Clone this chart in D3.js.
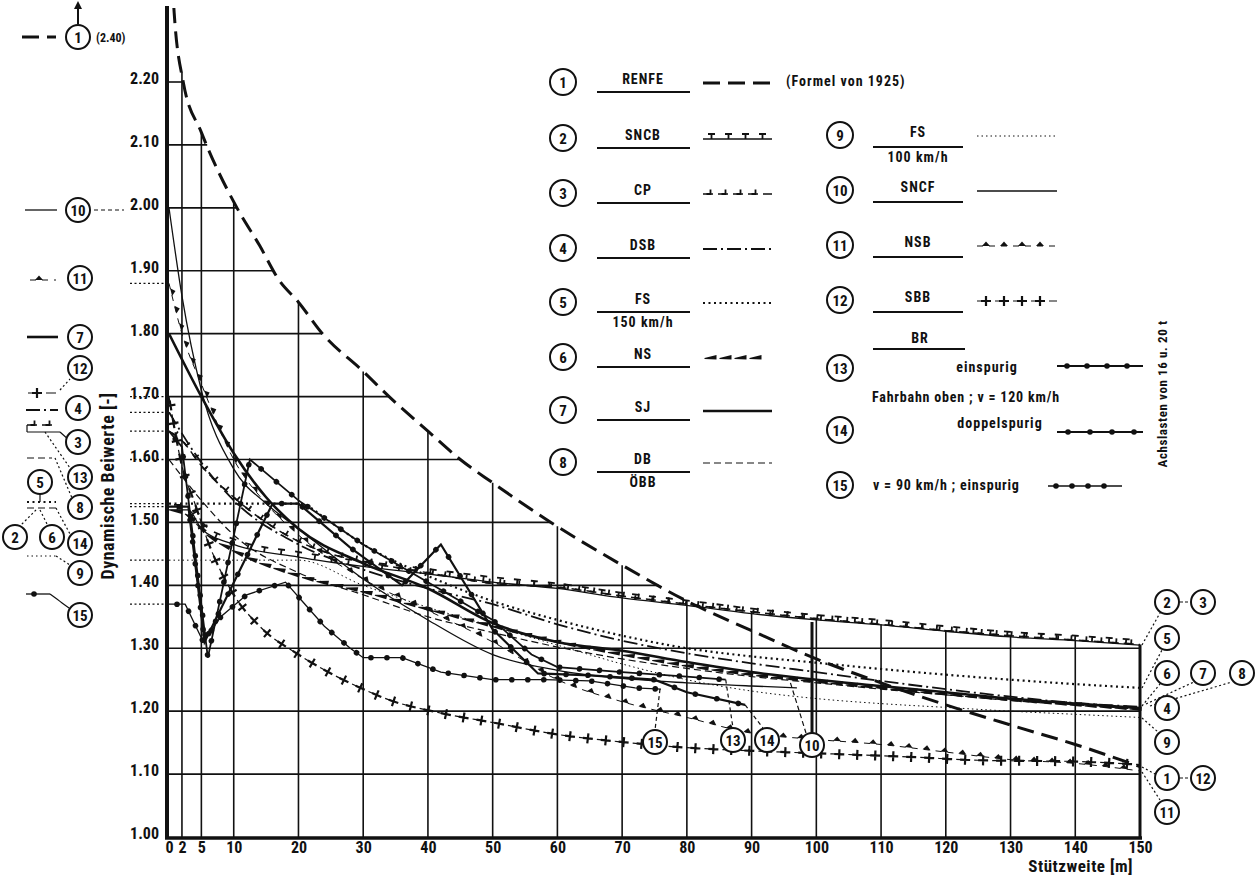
<!DOCTYPE html>
<html>
<head>
<meta charset="utf-8">
<script src="https://cdn.jsdelivr.net/npm/d3@7"></script>
<style>
body { margin: 0; background: #fff; }
svg text { font-family: "Liberation Sans Narrow", "Roboto Condensed", "DejaVu Sans Condensed", sans-serif; font-weight: bold; fill: #111; }
</style>
</head>
<body>
<svg id="chart" width="1260" height="879"></svg>
<script>
// axis ticks
var xTicks = [0, 2, 5, 10, 20, 30, 40, 50, 60, 70, 80, 90, 100, 110, 120, 130, 140, 150];
var xLabels = ["0", "2", "5", "10", "20", "30", "40", "50", "60", "70", "80", "90", "100", "110", "120", "130", "140", "150"];
var yTicks = [1.0, 1.1, 1.2, 1.3, 1.4, 1.5, 1.6, 1.7, 1.8, 1.9, 2.0, 2.1, 2.2];

// series: [Stützweite m, dynamischer Beiwert]
var renfe = [[0.3,2.40],[0.8,2.31],[2.2,2.20],[5,2.12],[10.5,2.00],[14,1.94],[17,1.885],[20,1.85],[23.7,1.80],[30,1.74],[34,1.70],[40,1.645],[45,1.60],[50,1.563],[59,1.50],[70,1.432],[80,1.375],[90,1.328],[100,1.283],[110,1.245],[120,1.21],[130,1.178],[140,1.147],[150,1.112]];
var sncb = [[0,1.52],[3,1.52],[5,1.49],[10,1.465],[20,1.445],[30,1.43],[40,1.418],[50,1.405],[60,1.395],[70,1.38],[80,1.368],[90,1.355],[100,1.345],[110,1.337],[120,1.327],[130,1.318],[140,1.312],[150,1.305]];
var cp = [[0,1.645],[2,1.63],[5,1.59],[10,1.54],[15,1.50],[20,1.47],[25,1.45],[30,1.438],[40,1.42],[50,1.403],[60,1.397],[70,1.383],[80,1.37],[90,1.358],[100,1.347],[110,1.338],[120,1.328],[130,1.32],[140,1.313],[150,1.306]];
var dsb = [[0,1.675],[5,1.595],[10,1.535],[20,1.465],[30,1.425],[40,1.395],[50,1.37],[60,1.338],[70,1.312],[80,1.292],[90,1.276],[100,1.262],[110,1.248],[120,1.235],[130,1.223],[140,1.213],[150,1.207]];
var fs150 = [[0,1.53],[20,1.53],[25,1.50],[30,1.465],[40,1.415],[50,1.375],[60,1.345],[70,1.32],[80,1.30],[90,1.287],[100,1.277],[110,1.267],[120,1.258],[130,1.25],[140,1.243],[150,1.237]];
var ns = [[0,1.52],[3,1.51],[6,1.48],[10,1.455],[20,1.415],[30,1.39],[40,1.362],[50,1.335],[60,1.31],[70,1.29],[80,1.272],[90,1.258],[100,1.247],[110,1.237],[120,1.227],[130,1.218],[140,1.21],[150,1.203]];
var sj = [[0,1.80],[5,1.70],[10,1.61],[15,1.54],[20,1.49],[30,1.435],[40,1.395],[50,1.34],[60,1.31],[70,1.296],[80,1.278],[90,1.262],[100,1.25],[110,1.24],[120,1.23],[130,1.22],[140,1.212],[150,1.205]];
var dbOebb = [[0,1.60],[5,1.535],[10,1.48],[20,1.42],[30,1.385],[40,1.35],[50,1.325],[60,1.302],[70,1.283],[80,1.268],[90,1.255],[100,1.245],[110,1.235],[120,1.226],[130,1.217],[140,1.21],[150,1.203]];
var fs100 = [[0,1.44],[20,1.44],[30,1.40],[40,1.365],[50,1.335],[60,1.305],[70,1.275],[80,1.25],[90,1.232],[100,1.22],[110,1.212],[120,1.206],[130,1.20],[140,1.195],[150,1.19]];
var sncf = [[0,2.00],[2,1.86],[5,1.71],[10,1.585],[15,1.53],[20,1.49],[30,1.41],[40,1.345],[50,1.29],[60,1.265],[70,1.252],[80,1.245],[90,1.24],[97,1.237]];
var nsb = [[0,1.88],[2,1.80],[5,1.72],[10,1.60],[15,1.53],[20,1.48],[30,1.41],[40,1.36],[50,1.31],[60,1.25],[70,1.215],[80,1.19],[90,1.165],[100,1.155],[110,1.147],[120,1.135],[130,1.123],[140,1.117],[150,1.105]];
var sbb = [[0,1.70],[2,1.59],[4,1.53],[6,1.47],[10,1.385],[14,1.335],[20,1.29],[25,1.26],[30,1.235],[34,1.218],[42,1.197],[50,1.182],[60,1.163],[70,1.151],[80,1.142],[90,1.137],[100,1.133],[115,1.127],[125,1.122],[140,1.12],[150,1.115]];
var brEin = [[0,1.645],[2,1.62],[6,1.285],[12.5,1.60],[20,1.535],[30,1.465],[40,1.405],[50,1.345],[56,1.29],[60,1.27],[70,1.262],[80,1.255],[86,1.25]];
var brDoppel = [[0,1.525],[3,1.525],[5.5,1.31],[16,1.53],[20,1.53],[28,1.46],[36,1.40],[42,1.465],[50,1.33],[57,1.26],[65,1.257],[75,1.25],[80,1.23],[89,1.21]];
var br90 = [[0,1.37],[2.5,1.37],[5.3,1.31],[8,1.35],[12,1.385],[18,1.405],[21,1.37],[24,1.335],[28,1.30],[30,1.285],[36,1.285],[42,1.262],[50,1.25],[58,1.25],[65,1.248],[72,1.237],[76,1.235]];

var svg = d3.select("#chart");
var x = d3.scaleLinear().domain([0, 150]).range([169, 1140]);
var y = d3.scaleLinear().domain([1.0, 2.2]).range([837, 82]);
var yTop = 2.31;
var ink = "#111";

function interp(pts, xv) {
  if (xv <= pts[0][0]) return pts[0][1];
  for (var i = 1; i < pts.length; i++) {
    if (xv <= pts[i][0]) {
      var t = (xv - pts[i-1][0]) / (pts[i][0] - pts[i-1][0]);
      return pts[i-1][1] + t * (pts[i][1] - pts[i-1][1]);
    }
  }
  return pts[pts.length-1][1];
}
// grid only drawn below the RENFE curve / SNCB curve
function envelope(xv) {
  return Math.min(yTop, Math.max(interp(renfe, xv), interp(sncb, xv), interp(cp, xv)));
}

svg.append("clipPath").attr("id", "plotclip")
  .append("rect").attr("x", 160).attr("y", 8).attr("width", 990).attr("height", 832);

// grid
var grid = svg.append("g").attr("stroke", ink).attr("stroke-width", 1.6);
yTicks.slice(1).forEach(function(v) {
  var xe = 0;
  for (var s = 0; s <= 150; s += 0.1) { if (envelope(s) >= v) xe = s; }
  grid.append("line").attr("x1", x(0)).attr("x2", x(xe)).attr("y1", y(v)).attr("y2", y(v));
});
xTicks.slice(1).forEach(function(v) {
  grid.append("line").attr("x1", x(v)).attr("x2", x(v)).attr("y1", y(1.0)).attr("y2", y(envelope(v)))
    .attr("stroke-width", v === 150 ? 3 : 1.6);
});

// axes
var yAxis = svg.append("g").attr("transform", "translate(159,0)")
  .call(d3.axisLeft(y).tickValues(yTicks).tickFormat(d3.format(".2f")).tickSize(0).tickPadding(0));
yAxis.select(".domain").remove();
yAxis.selectAll("text").attr("font-size", 16).attr("dy", "0.1em");
var xAxis = svg.append("g").attr("transform", "translate(0,838)")
  .call(d3.axisBottom(x).tickValues(xTicks).tickFormat(function(d, i) { return xLabels[i]; }).tickSize(0).tickPadding(4));
xAxis.select(".domain").remove();
xAxis.selectAll("text").attr("font-size", 16);
svg.append("line").attr("x1", 167).attr("x2", 167).attr("y1", 6).attr("y2", 839).attr("stroke", ink).attr("stroke-width", 4);
svg.append("line").attr("x1", 165).attr("x2", 1142).attr("y1", 838).attr("y2", 838).attr("stroke", ink).attr("stroke-width", 3.5);

svg.append("text").attr("x", 1133).attr("y", 872).attr("text-anchor", "end").attr("font-size", 17).attr("letter-spacing", 0.5).text("Stützweite [m]");
svg.append("text").attr("transform", "translate(114,486) rotate(-90)").attr("text-anchor", "middle").attr("font-size", 18).attr("letter-spacing", 0.5).text("Dynamische Beiwerte [-]");

// markers along a path
var markShapes = {
  tee: function(m) { m.append("path").attr("d", "M0,0V-5M-3.5,-5H3.5").attr("stroke", ink).attr("stroke-width", 1.8).attr("fill", "none"); },
  hook: function(m) { m.append("path").attr("d", "M-4,0H0V-4.5").attr("stroke", ink).attr("stroke-width", 1.8).attr("fill", "none"); },
  tri: function(m) { m.append("path").attr("d", "M-4,0L0,-4.5L4,0Z").attr("fill", ink); },
  plus: function(m) { m.append("path").attr("d", "M0,-5V5M-5,0H5").attr("stroke", ink).attr("stroke-width", 2.2).attr("fill", "none"); },
  dot: function(m) { m.append("circle").attr("r", 2.8).attr("fill", ink); },
  wedge: function(m) { m.append("path").attr("d", "M-6,1L-6,0L6,-3L6,1.5Z").attr("fill", ink); }
};
function addMarks(g, node, kind, step) {
  var L = node.getTotalLength();
  for (var s = step / 2; s < L - 2; s += step) {
    var p = node.getPointAtLength(s), q = node.getPointAtLength(Math.min(L, s + 1));
    var a = Math.atan2(q.y - p.y, q.x - p.x) * 180 / Math.PI;
    markShapes[kind](g.append("g").attr("transform", "translate(" + p.x + "," + p.y + ") rotate(" + a + ")"));
  }
}

var styles = {
  1: { w: 3, dash: "17 8" },
  2: { w: 1.3, mark: "tee", step: 17 },
  3: { w: 1.5, dash: "10 5", mark: "hook", step: 15 },
  4: { w: 1.8, dash: "14 4 2 4" },
  5: { w: 2.2, dash: "2 3.5" },
  6: { w: 0, mark: "wedge", step: 15 },
  7: { w: 2.6 },
  8: { w: 1.2, dash: "7 4" },
  9: { w: 1, dash: "1.5 3" },
  10: { w: 1.3 },
  11: { w: 1, dash: "6 6", mark: "tri", step: 18 },
  12: { w: 1.2, dash: "10 8", mark: "plus", step: 18 },
  13: { w: 1.8, mark: "dot", step: 20, linear: true },
  14: { w: 2.2, mark: "dot", step: 22, linear: true },
  15: { w: 1.3, mark: "dot", step: 16, linear: true }
};
var seriesList = [
  { id: 1, data: renfe }, { id: 2, data: sncb }, { id: 3, data: cp }, { id: 4, data: dsb },
  { id: 5, data: fs150 }, { id: 6, data: ns }, { id: 7, data: sj }, { id: 8, data: dbOebb },
  { id: 9, data: fs100 }, { id: 10, data: sncf }, { id: 11, data: nsb }, { id: 12, data: sbb },
  { id: 13, data: brEin }, { id: 14, data: brDoppel }, { id: 15, data: br90 }
];

var plot = svg.append("g").attr("clip-path", "url(#plotclip)");
seriesList.forEach(function(s) {
  var st = styles[s.id];
  var line = d3.line().x(function(d) { return x(d[0]); }).y(function(d) { return y(d[1]); })
    .curve(st.linear ? d3.curveLinear : d3.curveMonotoneX);
  var g = plot.append("g");
  var p = g.append("path").datum(s.data).attr("d", line).attr("fill", "none")
    .attr("stroke", ink).attr("stroke-width", st.w || 0.01).attr("stroke-opacity", st.w ? 1 : 0)
    .attr("stroke-dasharray", st.dash || null);
  if (st.mark) addMarks(g, p.node(), st.mark, st.step);
});

// dotted start-value stubs left of the axis
[11, 12, 4, 3, 8, 5, 14, 9, 15].forEach(function(id) {
  var v = seriesList[id - 1].data[0][1];
  svg.append("line").attr("x1", 130).attr("x2", 165).attr("y1", y(v)).attr("y2", y(v))
    .attr("stroke", ink).attr("stroke-width", 1.3).attr("stroke-dasharray", "2 2.5");
});

function circled(cx, cy, label, r) {
  r = r || 12;
  svg.append("circle").attr("cx", cx).attr("cy", cy).attr("r", r).attr("fill", "#fff").attr("stroke", ink).attr("stroke-width", 2);
  svg.append("text").attr("x", cx).attr("y", cy + 5.5).attr("text-anchor", "middle").attr("font-size", 15).text(label);
}
function sample(id, x1, x2, yy) {
  var st = styles[id];
  var g = svg.append("g");
  var p = g.append("path").attr("d", "M" + x1 + "," + yy + "H" + x2).attr("fill", "none")
    .attr("stroke", ink).attr("stroke-width", st.w || 0.01).attr("stroke-opacity", st.w ? 1 : 0)
    .attr("stroke-dasharray", st.dash || null);
  if (st.mark) addMarks(g, p.node(), st.mark, st.step);
}
function leader(x1, y1, x2, y2, dash) {
  svg.append("line").attr("x1", x1).attr("y1", y1).attr("x2", x2).attr("y2", y2)
    .attr("stroke", ink).attr("stroke-width", 1.2).attr("stroke-dasharray", dash || "2 2.5");
}

// left key
sample(1, 22, 56, 37); circled(78, 37, "1");
svg.append("text").attr("x", 96).attr("y", 42).attr("font-size", 12).text("(2.40)");
svg.append("line").attr("x1", 78).attr("x2", 78).attr("y1", 24).attr("y2", 6).attr("stroke", ink).attr("stroke-width", 2);
svg.append("path").attr("d", "M74,9L78,1L82,9Z").attr("fill", ink);
sample(10, 25, 57, 210); circled(78, 210, "10"); leader(94, 210, 124, 210, "4 3");
sample(11, 30, 56, 280); circled(80, 278, "11");
sample(7, 27, 58, 337); circled(80, 337, "7");
circled(80, 368, "12"); sample(12, 28, 57, 393); leader(60, 390, 70, 379);
sample(4, 26, 58, 410); circled(78, 408, "4");
sample(3, 27, 56, 425); leader(27, 425, 27, 432, "3 0"); leader(27, 432, 60, 432, "3 0"); leader(60, 432, 69, 440, "3 0");
circled(78, 442, "3"); circled(80, 477, "13"); leader(45, 432, 70, 468);
sample(8, 27, 52, 458); leader(55, 458, 72, 498);
circled(40, 482, "5");
sample(5, 27, 56, 502); leader(40, 494, 40, 502, "3 0");
sample(8, 27, 56, 508); circled(80, 507, "8"); circled(80, 543, "14"); leader(56, 508, 70, 534);
circled(15, 537, "2"); circled(52, 537, "6"); leader(36, 510, 20, 526); leader(40, 510, 48, 526);
sample(9, 27, 56, 556); circled(80, 573, "9"); leader(56, 556, 70, 565);
sample(15, 26, 50, 594); circled(80, 615, "15"); leader(50, 594, 69, 608, "3 0");

// right end labels
circled(1167, 602, "2"); circled(1203, 602, "3"); leader(1180, 602, 1190, 602, "3 2"); leader(1142, 645, 1160, 613);
circled(1167, 638, "5"); leader(1142, 688, 1162, 650);
circled(1167, 673, "6"); circled(1203, 673, "7"); circled(1242, 673, "8");
leader(1142, 706, 1160, 684); leader(1146, 704, 1194, 682); leader(1150, 706, 1232, 682);
circled(1167, 708, "4");
circled(1167, 742, "9"); leader(1142, 718, 1158, 732);
circled(1167, 778, "1"); circled(1203, 778, "12"); leader(1180, 778, 1190, 778, "3 2"); leader(1142, 767, 1155, 774);
circled(1167, 812, "11"); leader(1142, 772, 1160, 800);

// labels inside the plot
circled(655, 742, "15"); leader(660, y(1.235), 655, 730, "4 3");
circled(733, 740, "13"); leader(x(86), y(1.25), 733, 728, "4 3");
circled(767, 740, "14"); leader(x(89), y(1.21), 763, 728, "4 3");
circled(812, 745, "10"); svg.append("line").attr("x1", 812).attr("x2", 812).attr("y1", 622).attr("y2", 733).attr("stroke", ink).attr("stroke-width", 3);
leader(x(96), y(1.245), 806, 733, "5 3");

// legend block
function legText(tx, ty, str, size) {
  return svg.append("text").attr("x", tx).attr("y", ty).attr("text-anchor", "middle").attr("font-size", size || 14).attr("letter-spacing", 1).text(str);
}
function rule(x1, x2, yy) {
  svg.append("line").attr("x1", x1).attr("x2", x2).attr("y1", yy).attr("y2", yy).attr("stroke", ink).attr("stroke-width", 1.8);
}
var leftRows = [
  { id: 1, cy: 82, top: "RENFE" }, { id: 2, cy: 138, top: "SNCB" }, { id: 3, cy: 193, top: "CP" },
  { id: 4, cy: 248, top: "DSB" }, { id: 5, cy: 302, top: "FS", bottom: "150 km/h" }, { id: 6, cy: 357, top: "NS" },
  { id: 7, cy: 410, top: "SJ" }, { id: 8, cy: 462, top: "DB", bottom: "ÖBB" }
];
leftRows.forEach(function(r) {
  circled(563, r.cy, String(r.id), 13);
  legText(643, r.cy + 2, r.top);
  rule(597, 690, r.cy + 10);
  if (r.bottom) legText(643, r.cy + 25, r.bottom);
  sample(r.id, 703, 772, r.cy + 1);
});
svg.append("text").attr("x", 786).attr("y", 86).attr("font-size", 14).attr("letter-spacing", 1).text("(Formel von 1925)");

var rightRows = [
  { id: 9, cy: 135, top: "FS", bottom: "100 km/h" }, { id: 10, cy: 190, top: "SNCF" },
  { id: 11, cy: 245, top: "NSB" }, { id: 12, cy: 300, top: "SBB" }
];
rightRows.forEach(function(r) {
  circled(840, r.cy, String(r.id), 13);
  legText(918, r.cy + 2, r.top);
  rule(873, 963, r.cy + 12);
  if (r.bottom) legText(918, r.cy + 27, r.bottom);
  sample(r.id, 977, 1057, r.cy + 1);
});
legText(920, 343, "BR"); rule(873, 965, 349);
circled(840, 368, "13", 13); legText(987, 372, "einspurig"); sample(13, 1057, 1143, 366);
svg.append("text").attr("x", 872).attr("y", 402).attr("font-size", 14).attr("letter-spacing", 0.8).text("Fahrbahn oben ; v = 120 km/h");
circled(840, 430, "14", 13); legText(1000, 428, "doppelspurig"); sample(14, 1057, 1143, 432);
circled(840, 485, "15", 13); svg.append("text").attr("x", 873).attr("y", 490).attr("font-size", 14).attr("letter-spacing", 0.8).text("v = 90 km/h ; einspurig");
sample(15, 1048, 1122, 486);
svg.append("text").attr("transform", "translate(1167,394) rotate(-90)").attr("text-anchor", "middle").attr("font-size", 13).attr("letter-spacing", 0.6).text("Achslasten von 16 u. 20 t");
</script>
</body>
</html>
